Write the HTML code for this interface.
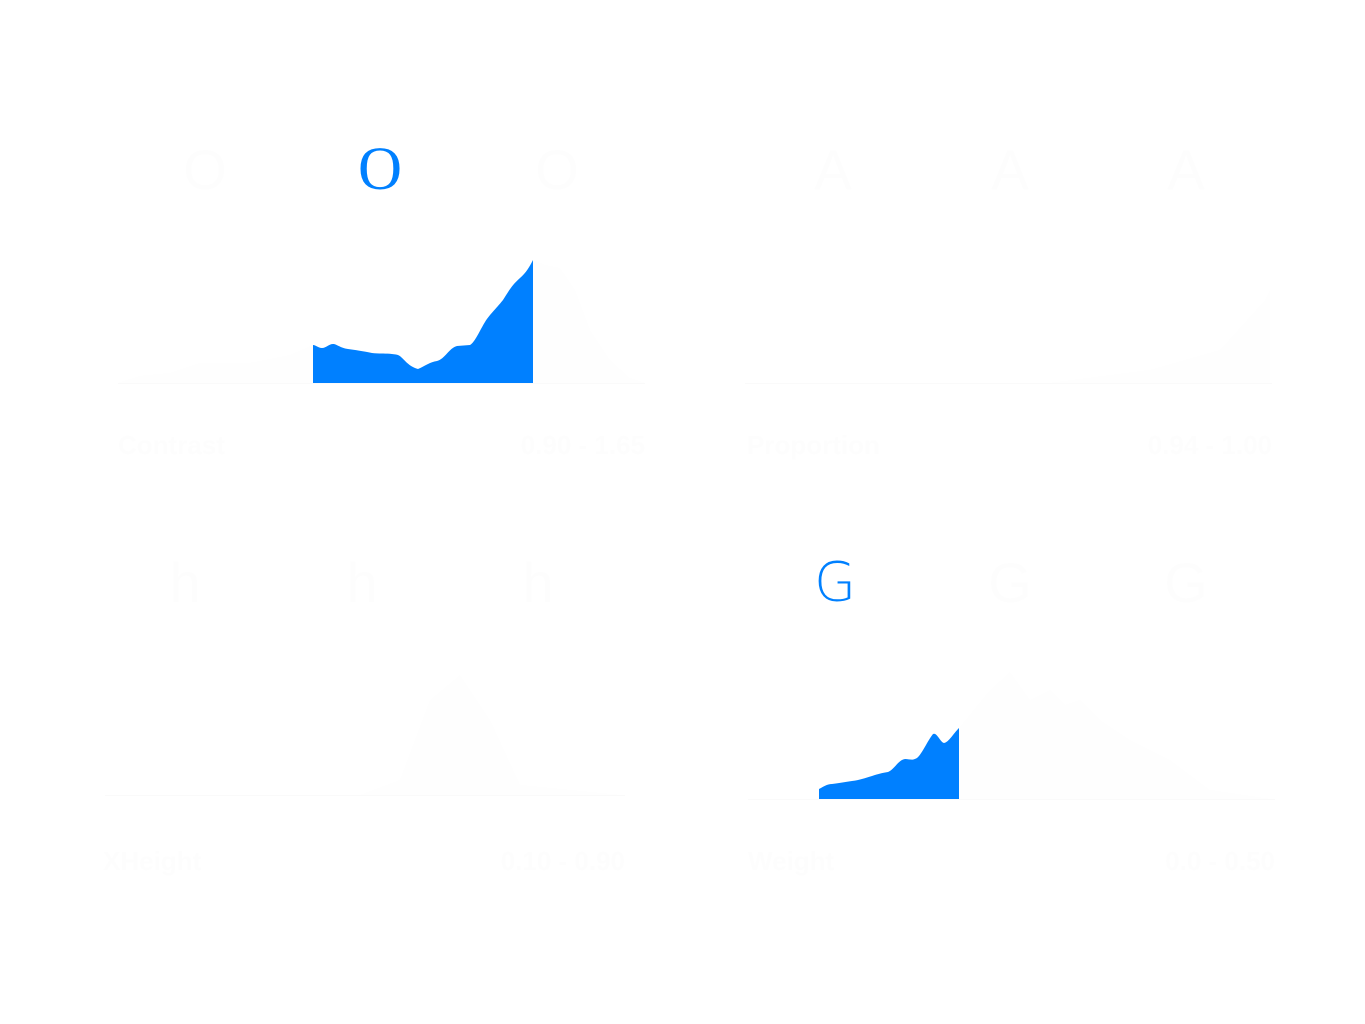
<!DOCTYPE html>
<html><head><meta charset="utf-8">
<style>
html,body{margin:0;padding:0;background:#fff;}
body{width:1365px;height:1024px;overflow:hidden;position:relative;}
svg{position:absolute;left:0;top:0;}
</style></head>
<body>
<svg width="1365" height="1024" viewBox="0 0 1365 1024" xmlns="http://www.w3.org/2000/svg">
<g fill="#fefefe" stroke="none">
<path d="M118,383 L140,376 L170,373 L200,363 L250,363 L290,355 L313,345 L313,383 Z"/>
<path d="M533,383 L533,260 L545,265 L560,268 L575,290 L590,330 L610,360 L630,378 L645,383 Z"/>
<path d="M745,383 L1050,383 L1150,370 L1220,350 L1265,300 L1270,290 L1270,383 Z"/>
<path d="M105,795 L360,795 L400,780 L430,700 L460,675 L490,720 L520,785 L620,795 Z"/>
<path d="M959,799 L959,728 L990,690 L1010,672 L1030,700 L1050,690 L1065,705 L1080,700 L1100,720 L1130,740 L1170,760 L1210,790 L1270,799 Z"/>
</g>
<g stroke="#fafafa" stroke-width="1">
<line x1="118" y1="383.5" x2="645" y2="383.5"/>
<line x1="745" y1="383.5" x2="1272" y2="383.5"/>
<line x1="105" y1="795.5" x2="625" y2="795.5"/>
<line x1="748" y1="799.5" x2="1275" y2="799.5"/>
</g>
<g fill="#fdfdfd" font-family="Liberation Sans, sans-serif" font-size="26" font-weight="bold">
<text x="118" y="454">Contrast</text>
<text x="645" y="454" text-anchor="end">0.90 - 1.65</text>
<text x="747" y="454">Proportion</text>
<text x="1272" y="454" text-anchor="end">0.94 - 1.00</text>
<text x="103" y="870">XHeight</text>
<text x="625" y="870" text-anchor="end">0.10 - 0.90</text>
<text x="748" y="870">Weight</text>
<text x="1275" y="870" text-anchor="end">0.0 - 0.50</text>
</g>
<g fill="#fdfdfd" font-family="Liberation Sans, sans-serif" font-size="56">
<text x="205" y="189" text-anchor="middle">O</text>
<text x="557" y="189" text-anchor="middle">O</text>
<text x="833" y="189" text-anchor="middle">A</text>
<text x="1010" y="189" text-anchor="middle">A</text>
<text x="1186" y="189" text-anchor="middle">A</text>
<text x="185" y="602" text-anchor="middle">h</text>
<text x="362" y="602" text-anchor="middle">h</text>
<text x="538" y="602" text-anchor="middle">h</text>
<text x="1010" y="602" text-anchor="middle">G</text>
<text x="1186" y="602" text-anchor="middle">G</text>
</g>
<path fill="#0080ff" d="M313,383 L313,345 C316,345 318,348 322,348 C326,348 329,344 333,344 C337,344 340,348 348,349 C355,350 362,351 372,353 C380,354 390,353 398,355 C403,357 407,366 418,369 C425,366 430,362 437,361 C445,359 449,348 457,346 L470,345 C475,342 480,330 485,322 C490,314 495,310 503,300 C508,292 512,285 520,278 C526,273 530,266 533,260 L533,383 Z"/>
<path fill="#0080ff" d="M819,799 L819,789 C823,787 827,784 832,784 C840,783 845,782 852,781 C860,780 865,778 872,776 C878,774 882,773 888,772 C895,769 898,760 905,759 C910,759 912,761 917,758 C922,754 928,740 933,734 C937,732 940,742 944,743 C949,742 953,734 959,728 L959,799 Z"/>
<text x="380" y="189" text-anchor="middle" fill="#0080ff" font-family="Liberation Serif, serif" font-size="61">O</text>
<text x="835" y="601" text-anchor="middle" fill="#0080ff" font-family="DejaVu Sans, sans-serif" font-weight="200" font-size="54">G</text>
</svg>
</body></html>
